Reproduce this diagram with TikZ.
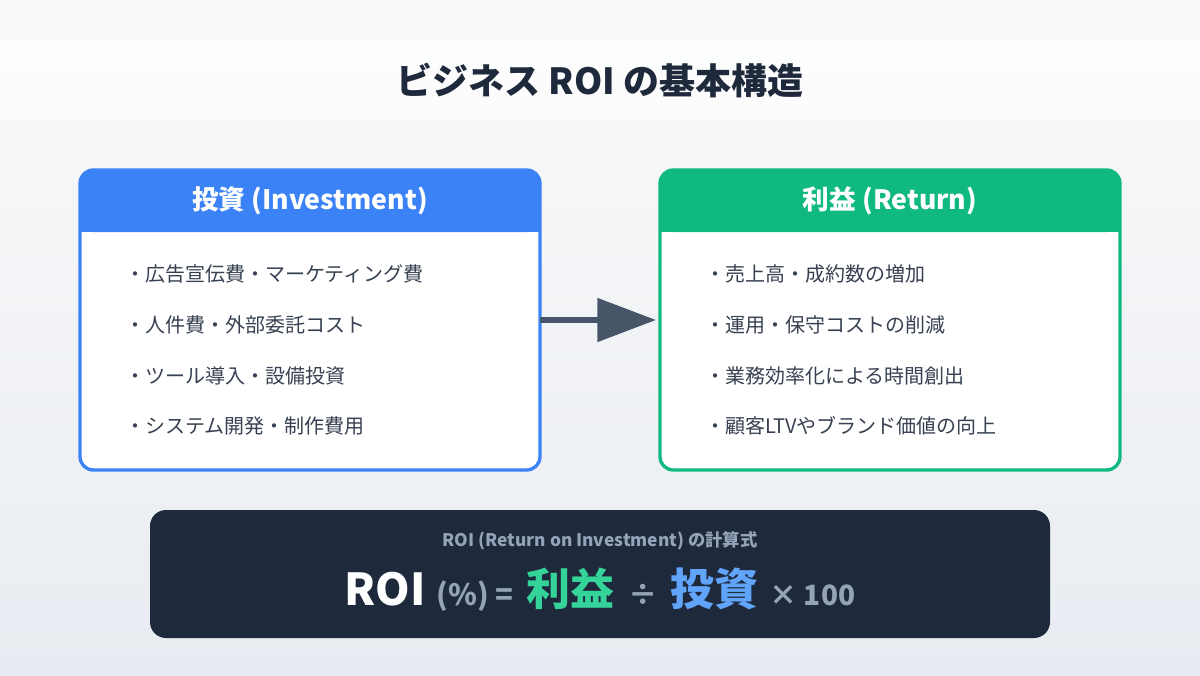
\documentclass[tikz,border=0pt]{standalone}
\usepackage{fontspec}
\setmainfont{Noto Sans CJK JP}
\usetikzlibrary{arrows.meta}
\definecolor{navy}{HTML}{1E293B}
\definecolor{blu}{HTML}{3B82F6}
\definecolor{grn}{HTML}{10B981}
\definecolor{txt}{HTML}{374151}
\definecolor{slate}{HTML}{475569}
\definecolor{gry}{HTML}{94A3B8}
\definecolor{lgrn}{HTML}{34D399}
\definecolor{lblu}{HTML}{60A5FA}
\tikzset{
 px/.style={x=0.75pt,y=-0.75pt},
 item/.style={anchor=west,text=txt,font=\fontsize{15}{18}\selectfont,inner sep=0},
 head/.style={text=white,font=\bfseries\fontsize{20}{24}\selectfont},
}
\begin{document}
\begin{tikzpicture}[px]
\useasboundingbox (0,0) rectangle (1200,675);
\shade[top color=white!60!gray!10, bottom color={rgb,255:red,232;green,236;blue,242}] (0,0) rectangle (1200,675);
\fill[white,opacity=0.7] (0,40) rectangle (1200,120);
\node[text=navy,font=\bfseries\fontsize{27}{32}\selectfont] (title) at (600,80) {ビジネス ROI の基本構造};
% left
\fill[white,rounded corners=10] (80,170) rectangle (540,470);
\fill[blu,rounded corners=10] (80,170) rectangle (540,232);
\fill[blu] (80,210) rectangle (540,232);
\draw[blu,line width=2.5pt,rounded corners=10] (80,170) rectangle (540,470);
\coordinate (L) at (540,320);
\node[head] (lh) at (310,201) {投資 (Investment)};
\node[item] (l1) at (125,274) {・広告宣伝費・マーケティング費};
\node[item] (l2) at (125,325) {・人件費・外部委託コスト};
\node[item] (l3) at (125,376) {・ツール導入・設備投資};
\node[item] (l4) at (125,426) {・システム開発・制作費用};
% right
\fill[white,rounded corners=10] (660,170) rectangle (1120,470);
\fill[grn,rounded corners=10] (660,170) rectangle (1120,232);
\fill[grn] (660,210) rectangle (1120,232);
\draw[grn,line width=2.5pt,rounded corners=10] (660,170) rectangle (1120,470);
\coordinate (R) at (656,320);
\node[head] (rh) at (890,201) {利益 (Return)};
\node[item] (r1) at (705,274) {・売上高・成約数の増加};
\node[item] (r2) at (705,325) {・運用・保守コストの削減};
\node[item] (r3) at (705,376) {・業務効率化による時間創出};
\node[item] (r4) at (705,426) {・顧客LTVやブランド価値の向上};
\draw[slate,line width=4.5pt,-{Triangle[length=44pt,width=32pt]}] (L) -- (R);
% bottom
\fill[navy,rounded corners=12] (150,510) rectangle (1050,638);
\node[text=gry,font=\bfseries\fontsize{13}{16}\selectfont] (sub) at (600,541) {ROI (Return on Investment) の計算式};
\node[anchor=base,inner sep=0] (f) at (600,605) {%
{\color{white}\bfseries\fontsize{33}{40}\selectfont ROI}\hspace{8pt}%
{\color{gry}\bfseries\fontsize{22}{26}\selectfont (\%) =}\hspace{10pt}%
{\color{lgrn}\bfseries\fontsize{33}{40}\selectfont 利益}\hspace{10pt}%
{\color{gry}\bfseries\fontsize{22}{26}\selectfont ÷}\hspace{10pt}%
{\color{lblu}\bfseries\fontsize{33}{40}\selectfont 投資}\hspace{8pt}%
{\color{gry}\bfseries\fontsize{21}{26}\selectfont × 100}};
\end{tikzpicture}
\end{document}
